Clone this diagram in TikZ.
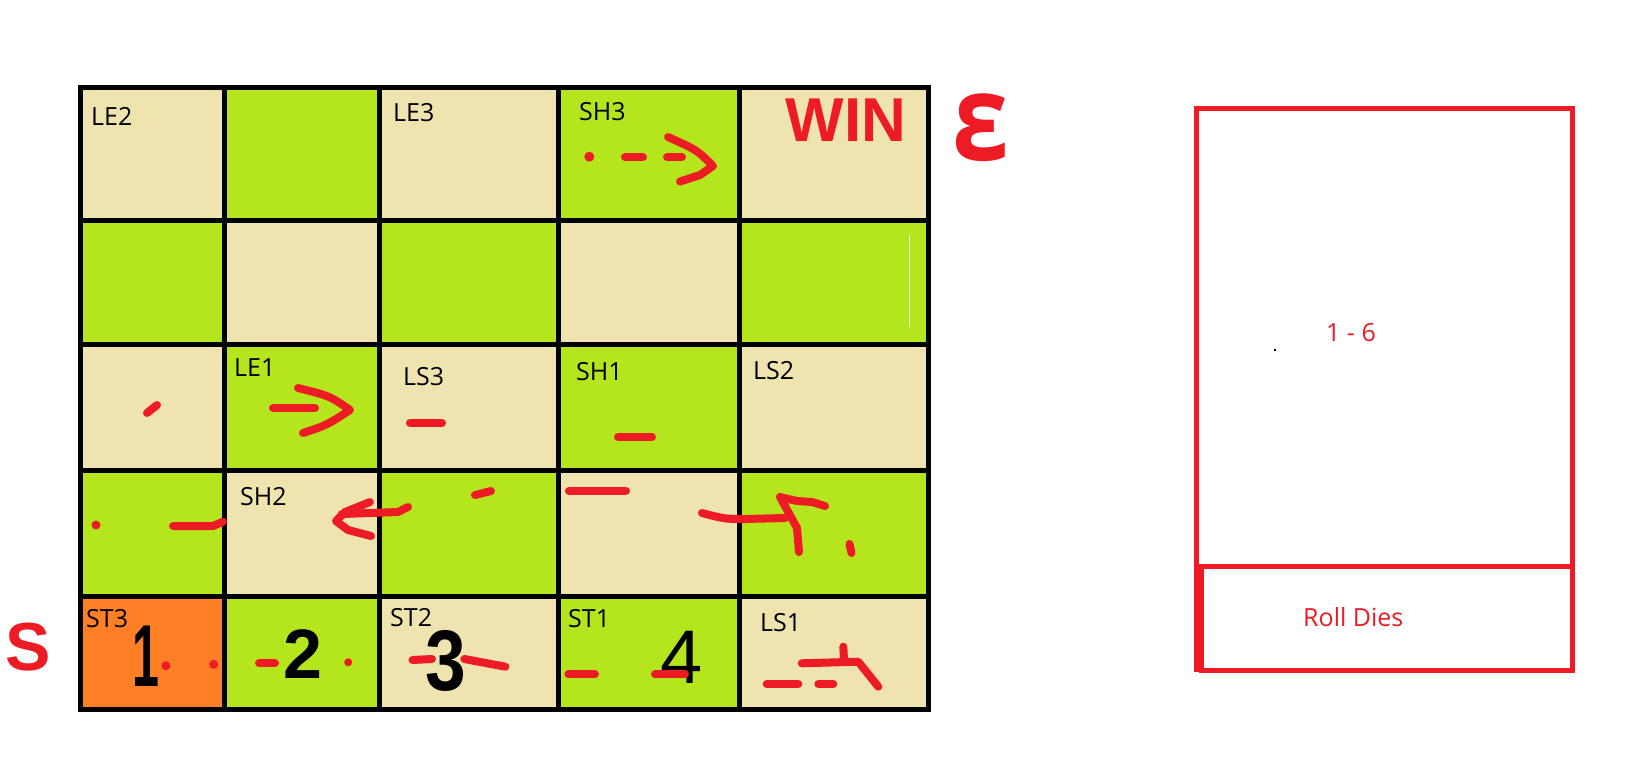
\documentclass[tikz,border=0pt]{standalone}
\usepackage{fontspec}
\setmainfont{Open Sans}
\newfontfamily\handfont{Liberation Sans}
\newfontfamily\openfont{DejaVu Sans}
\usepackage{tikz}
\usetikzlibrary{positioning}
\definecolor{Tan}{HTML}{EFE4B0}
\definecolor{Lime}{HTML}{B5E61D}
\definecolor{Orange}{HTML}{FF7F27}
\definecolor{PaintRed}{HTML}{ED1C24}

\begin{document}
\begin{tikzpicture}[x=1pt,y=-1pt,
    gridline/.style={line width=5pt,draw=black},
    celltag/.style={anchor=base west,inner sep=0pt,font=\fontsize{25}{30}\selectfont},
    brush/.style={draw=PaintRed,line width=8pt,line cap=round,line join=round},
    blot/.style={fill=PaintRed},
    scrawl/.style={text=PaintRed,inner sep=0pt,anchor=base,font=\handfont\bfseries\fontsize{62}{70}\selectfont},
    digit/.style={inner sep=0pt,anchor=base,font=\handfont\bfseries\fontsize{#1}{#1}\selectfont},
    boxline/.style={line width=5pt,draw=PaintRed}
]
\useasboundingbox (0,0) rectangle (1639,756);
\fill[white] (0,0) rectangle (1639,756);

% board
\foreach \r/\ya/\yb in {0/87.5/220.5,1/220.5/344.5,2/344.5/470.5,3/470.5/596.5,4/596.5/709.5}
  \foreach \c/\xa/\xb in {0/80/224.5,1/224.5/379.5,2/379.5/558.5,3/558.5/739.5,4/739.5/928.5}{
    \pgfmathtruncatemacro\cellpar{mod(\r+\c,2)}
    \ifnum\cellpar=0 \def\cellcol{Tan}\else\def\cellcol{Lime}\fi
    \fill[\cellcol] (\xa,\ya) rectangle (\xb,\yb);
  }
\fill[Orange] (80,596.5) rectangle (224.5,709.5);
\draw[white,line width=1pt] (909,235) -- (909,327);
\foreach \x in {224.5,379.5,558.5,739.5} \draw[gridline] (\x,87.5) -- (\x,709.5);
\foreach \y in {220.5,344.5,470.5,596.5} \draw[gridline] (80,\y) -- (928.5,\y);
\draw[gridline] (80,87.5) rectangle (928.5,709.5);

% cell names
\node[celltag] (le2) at (91,125) {LE2};
\node[celltag] (le3) at (393,121.7) {LE3};
\node[celltag] (sh3) at (579,120.7) {SH3};
\node[celltag] (le1) at (234,376.7) {LE1};
\node[celltag] (ls3) at (403,385) {LS3};
\node[celltag] (sh2) at (240,505) {SH2};
\node[celltag] (sh1) at (576,380.7) {SH1};
\node[celltag] (ls2) at (753,379) {LS2};
\node[celltag] (st3) at (86,627.7) {ST3};
\node[celltag] (st2) at (390,626) {ST2};
\node[celltag] (st1) at (568,627.7) {ST1};
\node[celltag] (ls1) at (760,631.7) {LS1};

% hand numbers
\node[digit=88,xscale=0.55] (one) at (146,686) {1};
\node[digit=70] (two) at (303,678.3) {2};
\node[digit=86,xscale=0.85] (three) at (446,690) {3};
\node[inner sep=0pt,anchor=base,font=\handfont\fontsize{76}{76}\selectfont] (four) at (682,683) {4};

% red marks
\node[scrawl] (win) at (846,141) {WIN};
\node[scrawl,font=\bfseries\fontsize{120}{120}\selectfont,xscale=0.85] (endmark) at (981,160) {ε};
\node[scrawl,font=\handfont\bfseries\fontsize{68}{70}\selectfont] (startmark) at (28,670) {S};

\fill[blot] (589.3,156.7) circle (5);
\draw[brush] (625,157.3) -- (643,157.3);
\draw[brush] (667,157.3) -- (682,157.3);
\draw[brush] (668,137) .. controls (697,150) .. (713,166) -- (700,175) -- (680,181.5);

\draw[brush] (147,413) -- (157,405);
\draw[brush] (273,408) -- (315,408);
\draw[brush] (298,388) .. controls (330,396) .. (350,410) .. controls (327,425) .. (303,433);
\draw[brush] (410,423) -- (442,423);

\fill[blot] (96,525) circle (4.5);
\draw[brush] (173,526) -- (213,526) -- (223,521.7);
\draw[brush] (370,502) -- (345,512) -- (336,521) -- (348,530) -- (371,536);
\draw[brush] (342,514) -- (398,512) -- (408,507);
\draw[brush] (475,495) -- (491,491);
\draw[brush] (618,437) -- (652,437);
\draw[brush] (569,491) -- (626,491);
\draw[brush] (702,513) .. controls (725,519) .. (745,519) -- (785,518);
\draw[brush] (799,552) -- (797,528) -- (780,497) -- (797,501) -- (812,502) -- (825,506);
\draw[brush] (849.5,544) -- (851.5,553);

\fill[blot] (166,665.7) circle (4.5);
\fill[blot] (213.6,664.3) circle (4.5);
\draw[brush] (259,663.3) -- (275,663.3);
\fill[blot] (348.2,662.3) circle (4);
\draw[brush] (412.5,660) -- (432,659);
\draw[brush] (464.3,659) -- (505.4,666.7);
\draw[brush] (568.3,674.3) -- (595,674.3);
\draw[brush] (655,674.3) -- (685,674.3);
\draw[brush] (766.7,684.3) -- (798.3,684.3);
\draw[brush] (818.3,684.3) -- (833.3,684.3);
\draw[brush] (801.7,663.3) -- (858.3,661.7) -- (878.3,686.7);
\draw[brush] (843.3,646.7) -- (844,660);

% dice panel
\draw[boxline] (1196.5,108) rectangle (1572.5,566.5);
\draw[boxline] (1201.5,566.5) rectangle (1572.5,670.5);
\draw[boxline] (1196.5,566.5) -- (1196.5,672);
\node[celltag,text=PaintRed] (range) at (1326,341.7) {1 - 6};
\node[celltag,text=PaintRed] (roll) at (1303,626.6) {Roll Dies};
\fill (1274,349) rectangle (1276,351);
\end{tikzpicture}
\end{document}
